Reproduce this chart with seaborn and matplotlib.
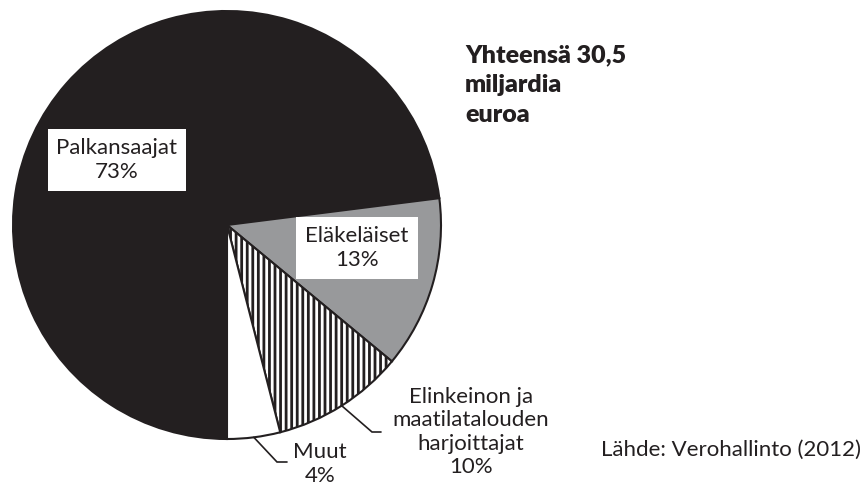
import matplotlib
matplotlib.use("Agg")
import matplotlib.pyplot as plt
import seaborn as sns
import numpy as np

# data
groups = ["Palkansaajat", "Eläkeläiset", "Elinkeinon ja\nmaatilatalouden\nharjoittajat", "Muut"]
shares = [73, 13, 10, 4]
total_text = "Yhteensä 30,5\nmiljardia\neuroa"
source_text = "Lähde: Verohallinto (2012)"

colors = ["#231f20", "#98999b", "white", "white"]
hatches = [None, None, "|||", None]

sns.set_style("white")
plt.rcParams["font.family"] = ["Lato", "DejaVu Sans"]
plt.rcParams["hatch.linewidth"] = 2.0

fig = plt.figure(figsize=(8.66, 4.9), dpi=100)
ax = fig.add_axes([0, 0, 1, 1])

cx, cy, r = 227, 265, 214
wedges, _ = ax.pie(
    shares,
    colors=colors,
    startangle=-90,
    counterclock=False,
    center=(cx, cy),
    radius=r,
    wedgeprops=dict(edgecolor="#231f20", linewidth=1.5),
)
for w, h in zip(wedges, hatches):
    if h:
        w.set_hatch(h)

ax.set_xlim(0, 866)
ax.set_ylim(0, 490)
ax.set_aspect("equal")
ax.axis("off")

fs = 16
box = dict(boxstyle="square,pad=0.4", fc="white", ec="none")

# labels inside boxes
ax.text(117, 490 - 160, f"{groups[0]}\n{shares[0]}%", ha="center", va="center",
        ma="center", fontsize=fs, linespacing=1.27, color="#231f20", bbox=box)
ax.text(357, 490 - 248, f"{groups[1]}\n{shares[1]}%", ha="center", va="center",
        ma="center", fontsize=fs, linespacing=1.27, color="#231f20", bbox=box)

# labels outside with leader lines
outside = {2: ((372, 58), (381, 58), (471, 490 - 432)),
           3: ((277, 28), (287, 28), (320, 490 - 464))}
for i, (elbow, end, tpos) in outside.items():
    w = wedges[i]
    th = np.deg2rad((w.theta1 + w.theta2) / 2)
    px, py = cx + r * np.cos(th), cy + r * np.sin(th)
    ax.plot([px, elbow[0], end[0]], [py, elbow[1], end[1]], color="#231f20", lw=1.2,
            solid_joinstyle="miter")
    ax.text(tpos[0], tpos[1], f"{groups[i]}\n{shares[i]}%", ha="center", va="center",
            ma="center", fontsize=fs, linespacing=1.22, color="#231f20")

ax.text(465, 490 - 85, total_text, ha="left", va="center", fontsize=18,
        fontweight="heavy", linespacing=1.45, color="#231f20")
ax.text(861, 490 - 450, source_text, ha="right", va="center", fontsize=fs,
        color="#231f20")

fig.savefig("out.png", dpi=100)
